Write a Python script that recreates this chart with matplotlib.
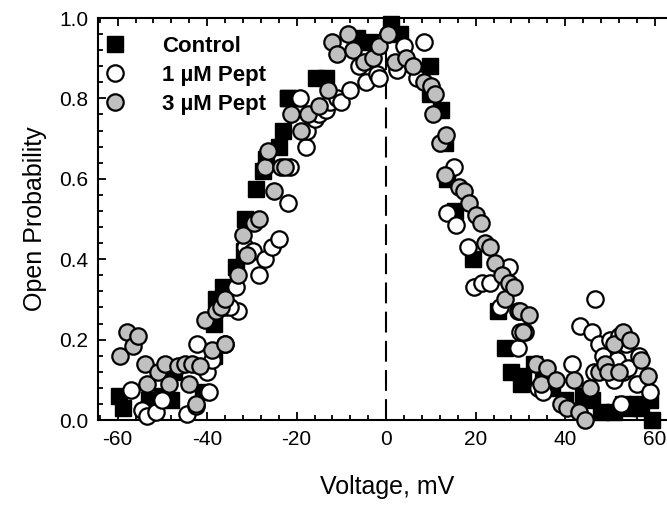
import matplotlib
matplotlib.use("Agg")
import matplotlib.pyplot as plt
from matplotlib.ticker import MultipleLocator
from matplotlib.lines import Line2D

plt.rcParams['font.family'] = ['Liberation Sans', 'DejaVu Sans']
plt.rcParams['axes.unicode_minus'] = False

# Control (black squares)
ctrl_v = [-59.7, -58.8, -53, -50, -48, -47.5, -41, -38.5, -38.5, -38, -36.5, -33.5, -31.8,
          -31.5, -29, -27.5, -26.8, -24, -23, -21.9, -22, -15.6, -13.5, -6.5, -3.5, 1.1, 3,
          9.8, 9.8, 12.3, 13.2, 13.6, 15.4, 19.4, 25, 26.6, 28, 30.2, 30.5, 33, 35, 37, 40,
          44, 46, 48, 51, 53, 54, 56, 57, 59, 59.5]
ctrl_p = [0.06, 0.03, 0.05, 0.06, 0.05, 0.12, 0.07, 0.16, 0.24, 0.30, 0.33, 0.38, 0.42,
          0.50, 0.575, 0.62, 0.65, 0.68, 0.72, 0.80, 0.80, 0.85, 0.85, 0.95, 0.94, 0.985, 0.96,
          0.88, 0.81, 0.77, 0.69, 0.60, 0.52, 0.40, 0.27, 0.18, 0.12, 0.09, 0.11, 0.14, 0.10, 0.08, 0.05,
          0.06, 0.05, 0.02, 0.02, 0.04, 0.03, 0.04, 0.03, 0.05, 0.0]

# 1 uM Pept (open circles)
p1_v = [-57, -54.5, -53.5, -51.5, -50, -44.5, -42.5, -42.2, -40, -39, -39.5, -36, -36, -33,
        -35, -33.5, -31.5, -29.8, -28.5, -27, -25.5, -24, -22, -21.5, -18, -17.7, -19.2, -16,
        -15, -13.5, -12.5, -11, -10, -8, -6, -4.5, -2, -1.5, 0.5, 2.5, 4, 7, 8.5, 13.5, 15.2,
        15.6, 18.3, 19.7, 21.5, 23.3, 25.5, 27.5, 29.5, 30, 31, 34, 35, 41.5, 43.4, 46, 46.7,
        47.5, 46.5, 48.5, 50, 51, 51.5, 52, 52.5, 53, 53.5, 54, 56, 56.5, 59]
p1_p = [0.075, 0.025, 0.01, 0.02, 0.05, 0.015, 0.035, 0.19, 0.12, 0.15, 0.07, 0.19, 0.28, 0.27,
        0.28, 0.33, 0.43, 0.42, 0.36, 0.40, 0.43, 0.45, 0.54, 0.63, 0.68, 0.72, 0.80, 0.75,
        0.76, 0.77, 0.79, 0.80, 0.79, 0.82, 0.88, 0.84, 0.86, 0.85, 0.96, 0.87, 0.93, 0.85, 0.94,
        0.515, 0.63, 0.485, 0.43, 0.33, 0.34, 0.34, 0.28, 0.38, 0.18, 0.22, 0.22, 0.08, 0.07,
        0.14, 0.235, 0.22, 0.30, 0.19, 0.12, 0.16, 0.20, 0.10, 0.15, 0.21, 0.04, 0.12, 0.19,
        0.13, 0.09, 0.16, 0.07]

# 3 uM Pept (grey circles)
p3_v = [-59.5, -58, -56.5, -55.5, -54, -53.5, -51, -49.5, -48.5, -46.5, -45, -44, -43.5, -42.5,
        -41.5, -40.5, -39, -38, -37, -36, -36, -33, -32, -31, -29.5, -28.5, -27, -26.5, -25,
        -23.5, -22.5, -21.3, -19, -17.5, -15, -13, -12, -11, -8.5, -7.5, -5, -3, -1.5, 0.3, 2,
        4.5, 6, 8.5, 10, 11, 10.5, 12, 13.3, 13.2, 16.2, 17.5, 18.5, 20, 21.3, 22, 23.3, 24.3,
        25.8, 26.5, 27.5, 28.5, 29.5, 30, 30.5, 32, 33.5, 34.5, 36, 38, 39, 40.5, 42, 43, 44.5,
        45.5, 47.5, 49, 49.5, 51, 52, 53, 54.5, 57, 58.5]
p3_p = [0.16, 0.22, 0.185, 0.21, 0.14, 0.09, 0.12, 0.14, 0.09, 0.135, 0.14, 0.09, 0.14, 0.04,
        0.135, 0.25, 0.175, 0.27, 0.28, 0.19, 0.30, 0.36, 0.46, 0.41, 0.49, 0.50, 0.63, 0.67, 0.57,
        0.63, 0.63, 0.76, 0.72, 0.76, 0.78, 0.82, 0.94, 0.91, 0.96, 0.92, 0.89, 0.90, 0.93, 0.96, 0.89,
        0.90, 0.88, 0.84, 0.83, 0.81, 0.76, 0.69, 0.71, 0.61, 0.58, 0.57, 0.54, 0.51, 0.49, 0.44, 0.43, 0.39,
        0.36, 0.30, 0.34, 0.33, 0.27, 0.27, 0.22, 0.26, 0.14, 0.09, 0.13, 0.10, 0.04, 0.03, 0.10, 0.02, 0.0,
        0.08, 0.12, 0.14, 0.12, 0.19, 0.12, 0.22, 0.20, 0.15, 0.11]

series_labels = ["Control", "1 \u00b5M Pept", "3 \u00b5M Pept"]
x_ticks = [-60, -40, -20, 0, 20, 40, 60]
y_ticks = [0.0, 0.2, 0.4, 0.6, 0.8, 1.0]

fig = plt.figure(figsize=(6.67, 5.12), dpi=100)
ax = fig.add_axes([98/667, 1 - 420/512, 579/667, 402/512])

grey = '#c0c0c0'
ax.plot(ctrl_v, ctrl_p, linestyle='none', marker='s', markersize=12, mfc='black', mec='black',
        clip_on=False, zorder=3)
ax.plot(p1_v, p1_p, linestyle='none', marker='o', markersize=11.8, mfc='white', mec='black',
        mew=1.6, clip_on=False, zorder=4)
ax.plot(p3_v, p3_p, linestyle='none', marker='o', markersize=11.8, mfc=grey, mec='black',
        mew=1.6, clip_on=False, zorder=5)

ax.axvline(0, color='black', lw=1.5, dashes=(10, 4), zorder=2)

ax.set_xlim(-64.4, 65)
ax.set_ylim(0.0, 1.0)
ax.set_xticks(x_ticks)
ax.set_yticks(y_ticks)
ax.set_xticklabels([str(t) for t in x_ticks])
ax.set_yticklabels([f"{t:.1f}" for t in y_ticks])
ax.xaxis.set_minor_locator(MultipleLocator(4))
ax.yaxis.set_minor_locator(MultipleLocator(0.04))
ax.tick_params(which='both', direction='in', top=True, right=True, width=1.3, labelsize=15)
ax.tick_params(which='major', length=6, pad=7)
ax.tick_params(which='minor', length=3.5)
for s in ax.spines.values():
    s.set_linewidth(1.5)

ax.set_xlabel("Voltage, mV", fontsize=18, labelpad=19)
ax.set_ylabel("Open Probability", fontsize=18, labelpad=9)

handles = [
    Line2D([], [], linestyle='none', marker='s', markersize=12, mfc='black', mec='black'),
    Line2D([], [], linestyle='none', marker='o', markersize=11.8, mfc='white', mec='black', mew=1.6),
    Line2D([], [], linestyle='none', marker='o', markersize=11.8, mfc=grey, mec='black', mew=1.6),
]
leg = ax.legend(handles, series_labels, loc='upper left', bbox_to_anchor=(-0.012, 0.988),
                frameon=False, handlelength=1.0, handletextpad=1.6, labelspacing=0.36,
                prop={'weight': 'bold', 'size': 16}, borderaxespad=0.2)

fig.savefig("out.png", dpi=100)
